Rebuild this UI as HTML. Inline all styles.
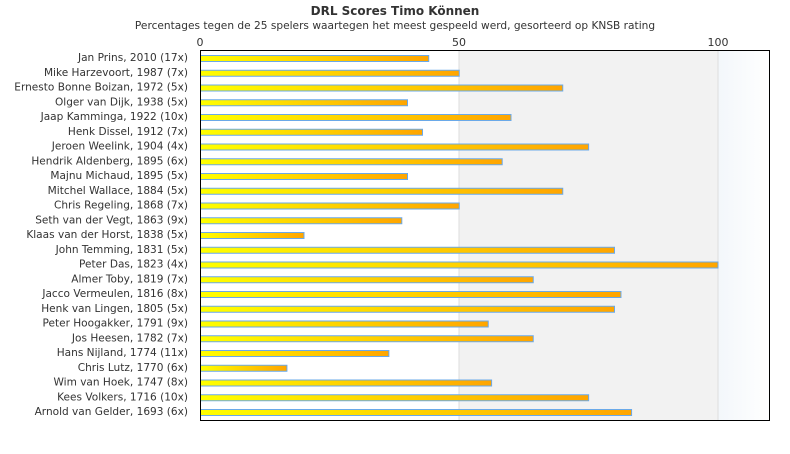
<!DOCTYPE html>
<html><head><meta charset="utf-8"><style>
body{margin:0;background:#fff;width:790px;height:450px;overflow:hidden;font-family:"DejaVu Sans","Liberation Sans",sans-serif;}
</style></head><body>
<svg width="790" height="450" xmlns="http://www.w3.org/2000/svg" font-family="DejaVu Sans, Liberation Sans, sans-serif">
<defs>
<linearGradient id="g" x1="0" x2="1" y1="0" y2="0"><stop offset="0" stop-color="#ffff00"/><stop offset="1" stop-color="#ffa500"/></linearGradient>
<linearGradient id="b" x1="0" x2="1" y1="0" y2="0"><stop offset="0" stop-color="#f3f7fb"/><stop offset="1" stop-color="#ffffff"/></linearGradient>
</defs>
<text x="395" y="15" text-anchor="middle" font-size="12" font-weight="bold" fill="#333">DRL Scores Timo Können</text>
<text x="395" y="29" text-anchor="middle" font-size="10.6" fill="#333">Percentages tegen de 25 spelers waartegen het meest gespeeld werd, gesorteerd op KNSB rating</text>
<rect x="459" y="50" width="259" height="370" fill="#f2f2f2"/>
<rect x="718" y="50" width="52" height="370" fill="url(#b)"/>
<line x1="459" y1="50" x2="459" y2="420" stroke="#ddd"/>
<line x1="718" y1="50" x2="718" y2="420" stroke="#ddd"/>
<text x="200" y="46" text-anchor="middle" font-size="11" fill="#333">0</text>
<text x="459" y="46" text-anchor="middle" font-size="11" fill="#333">50</text>
<text x="718" y="46" text-anchor="middle" font-size="11" fill="#333">100</text>
<g id="bars" font-size="10.55" fill="#333"></g>
<rect x="200.5" y="50.5" width="569" height="370" fill="none" stroke="#000"/>
</svg>
<script>
var d=[["Jan Prins, 2010 (17x)",44.1],["Mike Harzevoort, 1987 (7x)",50],["Ernesto Bonne Boizan, 1972 (5x)",70],["Olger van Dijk, 1938 (5x)",40],["Jaap Kamminga, 1922 (10x)",60],["Henk Dissel, 1912 (7x)",42.9],["Jeroen Weelink, 1904 (4x)",75],["Hendrik Aldenberg, 1895 (6x)",58.3],["Majnu Michaud, 1895 (5x)",40],["Mitchel Wallace, 1884 (5x)",70],["Chris Regeling, 1868 (7x)",50],["Seth van der Vegt, 1863 (9x)",38.9],["Klaas van der Horst, 1838 (5x)",20],["John Temming, 1831 (5x)",80],["Peter Das, 1823 (4x)",100],["Almer Toby, 1819 (7x)",64.3],["Jacco Vermeulen, 1816 (8x)",81.25],["Henk van Lingen, 1805 (5x)",80],["Peter Hoogakker, 1791 (9x)",55.6],["Jos Heesen, 1782 (7x)",64.3],["Hans Nijland, 1774 (11x)",36.4],["Chris Lutz, 1770 (6x)",16.7],["Wim van Hoek, 1747 (8x)",56.25],["Kees Volkers, 1716 (10x)",75],["Arnold van Gelder, 1693 (6x)",83.3]];
var g=document.getElementById("bars"),s="";
d.forEach(function(r,i){var y=55+i*14.75;var w=r[1]*5.175;
s+='<rect x="200.5" y="'+(y+0.5)+'" width="'+w+'" height="6" fill="url(#g)" stroke="#6aa9e9" stroke-width="1"/>';
s+='<text x="188" y="'+(y+6)+'" text-anchor="end">'+r[0]+'</text>';});
g.innerHTML=s;
</script>
</body></html>
